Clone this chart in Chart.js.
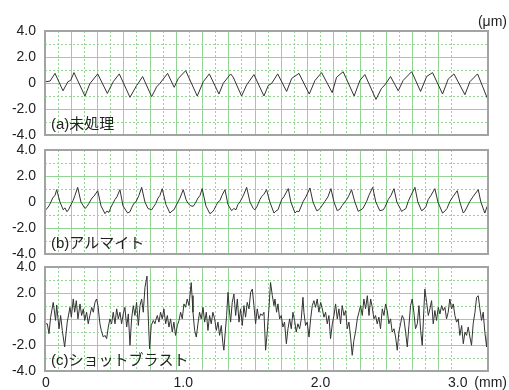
<!DOCTYPE html>
<html>
<head>
<meta charset="utf-8">
<script src="https://cdn.jsdelivr.net/npm/chart.js@4.4.1/dist/chart.umd.min.js"></script>
<style>
    html, body { margin: 0; padding: 0; background: #fff; }
    #wrap { position: relative; width: 509px; height: 390px; }
    #wrap canvas { position: absolute; left: 0; top: 0; }
</style>
</head>
<body>
<div id="wrap">
    <canvas id="c1" width="509" height="390"></canvas>
    <canvas id="c2" width="509" height="390"></canvas>
    <canvas id="c3" width="509" height="390"></canvas>
</div>
<script>
const xTicks = [0, 1, 2, 3];
const xTickLabels = ['0', '1.0', '2.0', '3.0'];
const yTicks = [-4, -2, 0, 2, 4];
const yTickLabels = ['-4.0', '-2.0', '0', '2.0', '4.0'];
const panelNames = ['(a)未処理', '(b)アルマイト', '(c)ショットブラスト'];
const unitY = '(μm)';
const unitX = '(mm)';

// (a) 未処理  x: mm, y: μm
const aX = [0, 0.030, 0.066, 0.124, 0.160, 0.180, 0.204, 0.284, 0.320, 0.377,
    0.447, 0.490, 0.534, 0.612, 0.660, 0.672, 0.704, 0.770, 0.806, 0.830,
    0.886, 0.934, 0.964, 1.018, 1.102, 1.146, 1.190, 1.260, 1.291, 1.345,
    1.364, 1.425, 1.462, 1.515, 1.588, 1.619, 1.644, 1.688, 1.753, 1.790,
    1.843, 1.918, 1.960, 2.008, 2.085, 2.117, 2.165, 2.245, 2.287, 2.323,
    2.404, 2.445, 2.469, 2.510, 2.566, 2.602, 2.664, 2.729, 2.773, 2.816,
    2.889, 2.930, 2.972, 3.052, 3.088, 3.144, 3.214];
const aY = [0.10, 0.15, 0.74, -0.60, 0.10, 0.20, 0.80, -1.00, -0.05, 0.70,
    -0.80, 0.10, 0.70, -1.10, -0.20, -0.03, 0.50, -1.05, -0.30, -0.03,
    0.74, -0.33, 0.35, 0.95, -1.00, 0.10, 0.70, -0.85, -0.03, 0.70,
    0.45, -1.00, -0.15, 0.65, -1.00, -0.20, -0.03, 0.70, -0.65, 0.35,
    0.74, -0.85, 0.20, 0.80, -0.74, 0.44, 0.87, -1.00, 0.20, 0.65,
    -1.26, -0.40, -0.15, 0.50, -0.60, 0.20, 0.87, -0.65, 0.50, 0.80,
    -0.85, 0.30, 0.70, -0.90, 0.10, 0.70, -1.15];

// (b) アルマイト
const bX = [0.000, 0.022, 0.036, 0.051, 0.066, 0.078, 0.102, 0.126, 0.138, 0.153,
    0.167, 0.182, 0.197, 0.211, 0.231, 0.255, 0.284, 0.299, 0.313, 0.335,
    0.350, 0.377, 0.401, 0.430, 0.444, 0.459, 0.473, 0.488, 0.503, 0.517,
    0.539, 0.561, 0.595, 0.612, 0.626, 0.641, 0.655, 0.677, 0.697, 0.721,
    0.743, 0.770, 0.779, 0.801, 0.816, 0.830, 0.847, 0.874, 0.903, 0.918,
    0.932, 0.947, 0.961, 0.976, 1.000, 1.020, 1.034, 1.056, 1.073, 1.093,
    1.107, 1.122, 1.138, 1.165, 1.194, 1.209, 1.224, 1.238, 1.253, 1.267,
    1.282, 1.304, 1.326, 1.352, 1.369, 1.384, 1.398, 1.413, 1.428, 1.442,
    1.462, 1.486, 1.510, 1.522, 1.537, 1.559, 1.573, 1.588, 1.607, 1.631,
    1.661, 1.675, 1.690, 1.717, 1.733, 1.765, 1.784, 1.814, 1.828, 1.843,
    1.874, 1.894, 1.923, 1.945, 1.972, 1.988, 2.003, 2.032, 2.054, 2.076,
    2.098, 2.122, 2.141, 2.156, 2.190, 2.207, 2.226, 2.250, 2.275, 2.294,
    2.309, 2.336, 2.352, 2.380, 2.403, 2.432, 2.457, 2.469, 2.493, 2.513,
    2.535, 2.556, 2.591, 2.607, 2.622, 2.639, 2.658, 2.688, 2.709, 2.736,
    2.753, 2.768, 2.784, 2.804, 2.833, 2.855, 2.889, 2.906, 2.921, 2.943,
    2.964, 2.996, 3.015, 3.040, 3.052, 3.088, 3.110, 3.149, 3.168, 3.197,
    3.214];
const bY = [-0.60, -0.30, 0.00, 0.35, 0.50, 0.95, 0.00, -0.60, -0.45, -0.75,
    -0.55, -0.20, 0.10, 0.50, 1.13, 0.00, -0.50, -0.35, -0.10, 0.30,
    0.45, 0.87, -0.30, -0.90, -0.70, -0.80, -0.40, -0.10, 0.20, 0.40,
    0.95, -0.30, -0.85, -0.75, -0.40, -0.10, 0.00, 0.50, 1.13, 0.00,
    -0.50, -0.60, -0.45, -0.10, 0.30, 0.50, 1.03, -0.20, -0.85, -0.70,
    -0.60, -0.30, 0.00, 0.30, 0.95, 0.20, -0.10, -0.30, -0.33, 0.00,
    0.30, 0.50, 1.03, -0.30, -0.90, -0.80, -0.60, -0.30, 0.00, 0.10,
    0.50, 0.95, -0.20, -0.67, -0.50, -0.60, -0.20, 0.00, 0.30, 0.60,
    1.13, 0.00, -0.50, -0.60, -0.35, 0.20, 0.44, 0.60, 0.95, 0.00,
    -0.85, -0.70, -0.60, 0.18, 0.40, 1.03, 0.00, -0.85, -0.70, -0.75,
    0.05, 0.40, 1.08, 0.00, -0.67, -0.60, -0.40, 0.05, 0.40, 1.03,
    0.00, -0.67, -0.55, -0.30, 0.18, 0.50, 0.95, 0.00, -0.72, -0.60,
    -0.50, 0.05, 0.50, 1.13, 0.00, -0.67, -0.60, -0.40, 0.18, 0.50,
    1.03, 0.00, -0.72, -0.60, -0.50, 0.05, 0.50, 1.13, 0.00, -0.67,
    -0.55, -0.35, 0.18, 0.50, 1.03, 0.00, -0.85, -0.70, -0.50, 0.05,
    0.40, 0.87, 0.00, -0.85, -0.70, 0.05, 0.40, 0.95, 0.00, -0.85,
    -0.33];

// (c) ショットブラスト
const cX = [0.000, 0.010, 0.022, 0.034, 0.053, 0.070, 0.078, 0.095, 0.107, 0.119,
    0.136, 0.155, 0.175, 0.185, 0.199, 0.209, 0.221, 0.233, 0.248, 0.260,
    0.272, 0.282, 0.296, 0.308, 0.320, 0.333, 0.345, 0.357, 0.369, 0.379,
    0.393, 0.403, 0.418, 0.430, 0.442, 0.454, 0.466, 0.478, 0.490, 0.503,
    0.515, 0.527, 0.539, 0.551, 0.563, 0.575, 0.588, 0.600, 0.612, 0.624,
    0.636, 0.648, 0.660, 0.673, 0.685, 0.697, 0.709, 0.721, 0.736, 0.743,
    0.748, 0.755, 0.767, 0.782, 0.794, 0.799, 0.811, 0.823, 0.835, 0.847,
    0.859, 0.872, 0.884, 0.896, 0.908, 0.920, 0.932, 0.944, 0.957, 0.969,
    0.981, 0.993, 1.005, 1.017, 1.029, 1.042, 1.058, 1.064, 1.071, 1.083,
    1.095, 1.107, 1.119, 1.131, 1.144, 1.156, 1.168, 1.180, 1.192, 1.204,
    1.216, 1.229, 1.241, 1.253, 1.265, 1.277, 1.289, 1.296, 1.306, 1.316,
    1.326, 1.335, 1.345, 1.357, 1.369, 1.382, 1.394, 1.406, 1.418, 1.430,
    1.442, 1.454, 1.466, 1.479, 1.491, 1.503, 1.515, 1.527, 1.539, 1.551,
    1.564, 1.576, 1.588, 1.600, 1.612, 1.624, 1.636, 1.649, 1.661, 1.668,
    1.680, 1.690, 1.702, 1.714, 1.726, 1.738, 1.751, 1.763, 1.775, 1.787,
    1.799, 1.811, 1.823, 1.835, 1.848, 1.860, 1.872, 1.879, 1.891, 1.903,
    1.916, 1.928, 1.940, 1.952, 1.964, 1.976, 1.988, 2.001, 2.013, 2.025,
    2.037, 2.049, 2.061, 2.073, 2.086, 2.098, 2.110, 2.122, 2.134, 2.146,
    2.158, 2.171, 2.183, 2.195, 2.207, 2.219, 2.231, 2.243, 2.255, 2.268,
    2.280, 2.292, 2.304, 2.316, 2.328, 2.341, 2.353, 2.365, 2.377, 2.389,
    2.401, 2.413, 2.425, 2.437, 2.450, 2.462, 2.474, 2.486, 2.498, 2.510,
    2.522, 2.535, 2.547, 2.559, 2.571, 2.583, 2.595, 2.607, 2.620, 2.632,
    2.644, 2.656, 2.668, 2.680, 2.692, 2.705, 2.717, 2.729, 2.741, 2.753,
    2.760, 2.773, 2.785, 2.797, 2.809, 2.821, 2.833, 2.845, 2.858, 2.870,
    2.882, 2.894, 2.906, 2.918, 2.930, 2.942, 2.955, 2.967, 2.979, 2.991,
    3.003, 3.015, 3.028, 3.040, 3.052, 3.064, 3.076, 3.088, 3.100, 3.112,
    3.125, 3.137, 3.149, 3.161, 3.173, 3.185, 3.197, 3.210, 3.219];
const cY = [-0.37, -0.37, -1.13, 0.14, 1.28, -0.11, 1.08, -0.75, 0.27, -0.88,
    -2.15, -0.24, 0.90, 0.14, 1.54, 0.52, 1.41, 0.01, 1.16, 0.27,
    0.78, -0.11, 0.52, -0.37, 0.27, 0.90, 0.52, 1.28, 1.54, 1.03,
    -0.37, -0.88, -1.39, -1.26, -1.51, -0.62, 0.01, -0.37, 0.52, -0.37,
    0.78, 0.01, 0.52, -0.37, 0.39, 0.90, -0.62, 0.39, -2.02, 0.01,
    1.03, 0.27, 1.28, -0.50, 1.03, 1.54, 0.52, 2.43, 3.30, 0.80,
    -0.60, -2.30, -0.50, -0.11, -0.37, -0.11, 0.27, -0.24, 0.52, 0.01,
    0.78, -0.37, 0.27, -0.62, 0.01, -1.01, -0.24, -1.26, -0.50, -0.11,
    0.52, 0.01, 1.16, 0.90, 1.54, 1.03, 2.80, 1.80, 0.52, -0.88,
    -1.39, -0.37, 0.52, 0.01, 0.90, -0.24, 0.52, -0.88, 0.27, -0.37,
    0.52, 0.01, -0.88, -0.24, -1.26, -0.50, -1.90, -2.40, -1.01, 0.27,
    2.05, 0.78, -0.24, 1.28, 1.92, 0.27, 1.54, -0.24, 0.78, -0.50,
    1.03, 0.14, 1.28, 0.78, 2.05, 2.30, 1.03, -0.37, 0.78, 0.01,
    0.39, 0.27, 0.52, -2.40, -1.01, 0.78, 2.81, 1.79, 1.03, 1.54,
    0.52, 1.16, 0.01, 0.27, -0.62, -0.24, -1.90, -0.75, 0.01, -0.75,
    0.52, -0.11, -1.01, -0.37, -0.75, 0.01, 1.67, 0.52, -0.50, -0.24,
    -1.39, 0.01, 1.03, 1.41, 0.90, 1.54, 0.52, 1.28, 0.78, 0.14,
    0.52, -0.37, 0.27, -1.51, -0.37, 0.27, 1.16, 0.01, 0.78, -0.37,
    1.03, 0.27, 0.65, -0.75, -0.24, -1.39, -2.79, -1.64, -1.01, 0.01,
    0.52, 1.03, 0.27, 1.54, 0.78, 1.79, 0.27, 1.54, 0.90, 0.01,
    0.27, -0.37, 0.14, -0.75, 0.78, 0.27, 1.16, 0.65, -0.37, 0.01,
    -1.01, -0.75, -1.39, -2.40, -1.01, -0.37, 0.27, 0.01, -1.01, -2.15,
    -0.50, 1.03, 1.54, 0.52, -0.75, -0.37, 1.03, -0.88, -2.02, 0.78,
    2.30, 1.28, 0.27, 0.78, 1.41, -0.37, 0.65, -0.11, 0.90, 0.39,
    1.03, 0.65, 0.90, 0.01, 0.52, 1.54, 0.78, 1.16, 0.27, -0.24,
    0.01, -1.26, -0.50, -1.90, -1.01, -1.26, -0.62, -1.39, -2.02, -0.37,
    0.52, 1.67, 1.79, 0.78, -0.11, 0.52, -1.01, -2.15, -0.50];

const GREEN = '#94d494';
const CLEAR = 'rgba(0,0,0,0)';
const LATIN = '"Liberation Sans", Arial, sans-serif';

Chart.defaults.font.family = LATIN;
Chart.defaults.font.size = 14;
Chart.defaults.color = '#222';

function toPoints(xs, ys) {
    return xs.map((x, i) => ({ x: x, y: ys[i] }));
}

// frame round the plot, panel name and unit texts
const panelDecor = {
    id: 'panelDecor',
    afterDatasetsDraw(chart, args, opts) {
        const a = chart.chartArea;
        const ctx = chart.ctx;
        ctx.save();
        ctx.strokeStyle = '#a3a3a3';
        ctx.lineWidth = 2;
        ctx.strokeRect(a.left, a.top, a.right - a.left, a.bottom - a.top);
        ctx.fillStyle = '#222';
        ctx.textBaseline = 'middle';
        ctx.font = '15px "Liberation Sans", "Noto Sans CJK JP", sans-serif';
        ctx.fillText(opts.name, a.left + 6, a.bottom - 10);
        ctx.font = '14px ' + LATIN;
        ctx.textAlign = 'right';
        if (opts.unitTop) ctx.fillText(opts.unitTop, 507, a.top - 9);
        if (opts.unitBottom) ctx.fillText(opts.unitBottom, 507, a.bottom + 12);
        ctx.restore();
    }
};

function makePanel(id, xs, ys, idx, padTop, padBottom, showX) {
    const ctx = document.getElementById(id).getContext('2d');
    return new Chart(ctx, {
        type: 'line',
        data: {
            datasets: [{
                data: toPoints(xs, ys),
                borderColor: '#333',
                borderWidth: 1,
                pointRadius: 0,
                tension: 0,
                fill: false,
                xAxisID: 'x',
                yAxisID: 'y'
            }]
        },
        options: {
            responsive: false,
            animation: false,
            devicePixelRatio: 1,
            layout: { padding: { left: 0, right: 21, top: padTop, bottom: padBottom } },
            plugins: {
                legend: { display: false },
                tooltip: { enabled: false },
                panelDecor: {
                    name: panelNames[idx],
                    unitTop: idx === 0 ? unitY : null,
                    unitBottom: showX ? unitX : null
                }
            },
            scales: {
                x: {
                    type: 'linear',
                    min: -0.007,
                    max: 3.22,
                    grid: { display: false, drawTicks: false },
                    border: { display: false },
                    afterBuildTicks: s => { s.ticks = xTicks.map(v => ({ value: v })); },
                    ticks: {
                        display: showX,
                        padding: 4,
                        maxRotation: 0,
                        autoSkip: false,
                        callback: (v) => xTickLabels[xTicks.indexOf(v)]
                    },
                    afterFit: s => { s.height = showX ? 19 : 0; s.paddingLeft = 0; s.paddingRight = 0; }
                },
                xs: {
                    type: 'linear', position: 'bottom', min: 0, max: 33.75,
                    ticks: { display: false, stepSize: 2, maxTicksLimit: 100 },
                    grid: { color: GREEN, lineWidth: 1, drawTicks: false },
                    border: { display: false },
                    afterFit: s => { s.height = 0; }
                },
                xd: {
                    type: 'linear', position: 'bottom', min: 0, max: 33.75,
                    ticks: { display: false, stepSize: 1, maxTicksLimit: 100 },
                    grid: {
                        color: c => (c.tick && Math.abs(c.tick.value % 2) === 1) ? GREEN : CLEAR,
                        lineWidth: 1, drawTicks: false
                    },
                    border: { display: false, dash: [2, 2] },
                    afterFit: s => { s.height = 0; }
                },
                y: {
                    type: 'linear',
                    min: -4,
                    max: 4,
                    afterBuildTicks: s => { s.ticks = yTicks.map(v => ({ value: v })); },
                    ticks: {
                        padding: 9,
                        callback: (v) => yTickLabels[yTicks.indexOf(v)]
                    },
                    grid: { color: GREEN, lineWidth: 1, drawTicks: false },
                    border: { display: false },
                    afterFit: s => { s.width = 45; s.paddingTop = 0; s.paddingBottom = 0; }
                },
                yd: {
                    type: 'linear', position: 'left', min: -4, max: 4,
                    ticks: { display: false, stepSize: 1, maxTicksLimit: 100 },
                    grid: {
                        color: c => (c.tick && Math.abs(c.tick.value % 2) === 1) ? GREEN : CLEAR,
                        lineWidth: 1, drawTicks: false
                    },
                    border: { display: false, dash: [2, 2] },
                    afterFit: s => { s.width = 0; }
                }
            }
        },
        plugins: [panelDecor]
    });
}

makePanel('c1', aX, aY, 0, 31, 255, false);
makePanel('c2', bX, bY, 1, 150, 136, false);
makePanel('c3', cX, cY, 2, 267, 0, true);
</script>
</body>
</html>
